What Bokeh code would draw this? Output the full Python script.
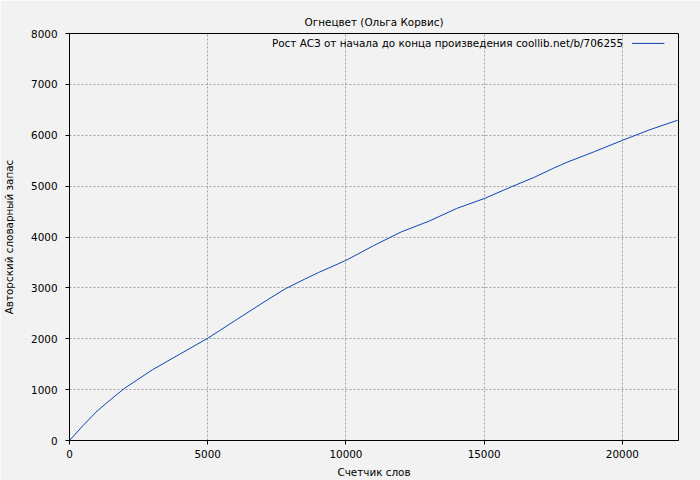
from bokeh.plotting import figure
from bokeh.models import Range1d, Label, FixedTicker
from bokeh.embed import file_html
from bokeh.resources import INLINE

# Data
words = [0, 500, 1000, 1500, 2000, 3000, 4000, 5000, 6000, 7000, 7800, 8500, 9000,
         10000, 11000, 12000, 13000, 14000, 15000, 16000, 16800, 17500, 18000,
         19000, 20000, 21000, 22000]
vocab = [0, 300, 580, 810, 1030, 1390, 1700, 2010, 2360, 2710, 2980, 3170, 3300,
         3540, 3830, 4100, 4310, 4560, 4755, 4990, 5170, 5350, 5470,
         5680, 5900, 6110, 6295]
x_ticks = [0, 5000, 10000, 15000, 20000]
y_ticks = [0, 1000, 2000, 3000, 4000, 5000, 6000, 7000, 8000]

title_text = "Огнецвет (Ольга Корвис)"
legend_text = "Рост АСЗ от начала до конца произведения coollib.net/b/706255"
x_label = "Счетчик слов"
y_label = "Авторский словарный запас"

BG = "#f2f2f2"
LINE = "#0a47b0"
FONT = "DejaVu Sans"
FS = "10.4px"

p = figure(width=700, height=480, output_backend="svg", toolbar_location=None,
           x_range=Range1d(0, 22030), y_range=Range1d(0, 8000),
           min_border_left=68, min_border_right=22, min_border_top=33, min_border_bottom=40)
p.background_fill_color = BG
p.border_fill_color = BG
p.outline_line_color = "black"
p.outline_line_width = 1

p.title.text = title_text
p.title.align = "center"
p.title.text_font = FONT
p.title.text_font_size = FS
p.title.text_font_style = "normal"
p.title.text_color = "black"
p.title.standoff = 11

for ax, ticks in ((p.xaxis[0], x_ticks), (p.yaxis[0], y_ticks)):
    ax.ticker = FixedTicker(ticks=ticks)
    ax.major_label_text_font = FONT
    ax.major_label_text_font_size = FS
    ax.major_label_text_color = "black"
    ax.axis_label_text_font = FONT
    ax.axis_label_text_font_size = FS
    ax.axis_label_text_font_style = "normal"
    ax.axis_label_text_color = "black"
    ax.axis_line_color = "black"
    ax.major_tick_line_color = "black"
    ax.major_tick_out = 4
    ax.major_tick_in = 0
    ax.minor_tick_line_color = None

p.xaxis[0].axis_label = x_label
p.xaxis[0].major_label_standoff = 5
p.xaxis[0].axis_label_standoff = 5
p.yaxis[0].axis_label = y_label
p.yaxis[0].major_label_standoff = 8
p.yaxis[0].axis_label_standoff = 13

for g in (p.xgrid[0], p.ygrid[0]):
    g.grid_line_color = "#a0a0a0"
    g.grid_line_dash = "2 2"
    g.grid_line_width = 1

p.line(words, vocab, line_color=LINE, line_width=1)

# gnuplot-style key: text right-aligned, sample line on its right
p.add_layout(Label(x=20030, y=7805, text=legend_text, text_align="right", text_baseline="middle",
                   text_font=FONT, text_font_size=FS, text_color="black"))
p.line([20350, 21520], [7805, 7805], line_color=LINE, line_width=1)

open("out.html", "w").write(file_html(p, INLINE))
